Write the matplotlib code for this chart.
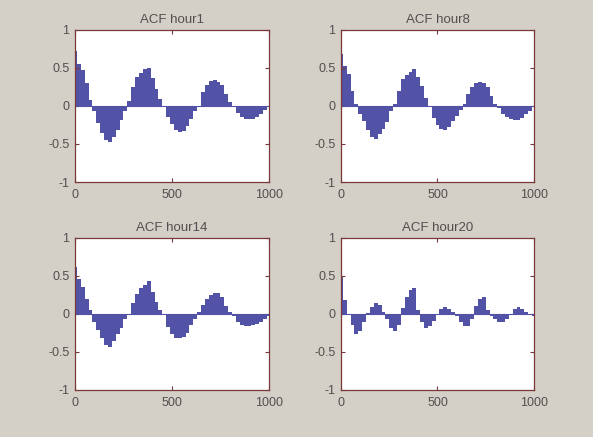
import numpy as np
import matplotlib
matplotlib.use("Agg")
import matplotlib.pyplot as plt

plt.rcParams['font.family'] = ['Liberation Sans', 'DejaVu Sans']

lags = np.arange(0, 1001, 20)

acf_hour1 = [0.72, 0.55, 0.47, 0.30, 0.08, -0.06, -0.22, -0.36, -0.45, -0.47,
             -0.41, -0.32, -0.19, -0.06, 0.07, 0.25, 0.38, 0.44, 0.48, 0.50,
             0.37, 0.22, 0.09, -0.02, -0.14, -0.24, -0.31, -0.34, -0.33, -0.26,
             -0.17, -0.07, -0.01, 0.18, 0.28, 0.33, 0.34, 0.32, 0.27, 0.16,
             0.05, -0.02, -0.09, -0.15, -0.17, -0.17, -0.17, -0.14, -0.10, -0.05,
             -0.01]
acf_hour8 = [0.68, 0.52, 0.42, 0.20, 0.02, -0.10, -0.20, -0.31, -0.41, -0.44,
             -0.37, -0.30, -0.21, -0.07, 0.02, 0.20, 0.35, 0.41, 0.45, 0.48,
             0.38, 0.26, 0.10, 0.00, -0.16, -0.25, -0.30, -0.31, -0.28, -0.20,
             -0.13, -0.05, 0.03, 0.16, 0.25, 0.30, 0.31, 0.30, 0.25, 0.13,
             0.03, -0.03, -0.10, -0.14, -0.17, -0.18, -0.18, -0.16, -0.11, -0.06,
             -0.02]
acf_hour14 = [0.62, 0.46, 0.36, 0.20, 0.05, -0.10, -0.21, -0.32, -0.41, -0.43,
              -0.35, -0.27, -0.18, -0.07, 0.00, 0.15, 0.26, 0.34, 0.38, 0.43,
              0.29, 0.16, 0.05, -0.02, -0.17, -0.26, -0.31, -0.32, -0.30, -0.25,
              -0.15, -0.06, 0.02, 0.12, 0.20, 0.25, 0.28, 0.27, 0.22, 0.10,
              0.03, -0.03, -0.10, -0.14, -0.16, -0.16, -0.15, -0.13, -0.10, -0.06,
              -0.03]
acf_hour20 = [0.48, 0.18, 0.00, -0.15, -0.27, -0.23, -0.11, 0.01, 0.09, 0.15,
              0.12, 0.02, -0.06, -0.18, -0.23, -0.14, 0.08, 0.22, 0.31, 0.34,
              0.05, -0.10, -0.19, -0.16, -0.09, -0.01, 0.06, 0.09, 0.07, 0.02,
              -0.03, -0.10, -0.16, -0.16, -0.06, 0.10, 0.20, 0.22, 0.05, -0.03,
              -0.07, -0.11, -0.11, -0.06, 0.00, 0.06, 0.09, 0.06, 0.02, -0.02,
              -0.03]

titles = ["ACF hour1", "ACF hour8", "ACF hour14", "ACF hour20"]
series = [acf_hour1, acf_hour8, acf_hour14, acf_hour20]

bg = '#d4d0c8'
frame = '#7a3838'
bar_col = '#5252a6'
txt = '#505050'

fig = plt.figure(figsize=(5.93, 4.37), dpi=100, facecolor=bg)

# axes boxes in figure fractions (left, bottom, width, height)
boxes = [(0.1265, 0.5835, 0.327, 0.348),
         (0.575, 0.5835, 0.3255, 0.348),
         (0.1265, 0.1076, 0.327, 0.348),
         (0.575, 0.1076, 0.3255, 0.348)]

for box, title, vals in zip(boxes, titles, series):
    ax = fig.add_axes(box)
    ax.set_facecolor('white')
    ax.bar(lags, vals, width=20, color=bar_col, linewidth=0)
    ax.axhline(0, color=bar_col, lw=0.8)
    ax.set_xlim(0, 1000)
    ax.set_ylim(-1, 1)
    ax.set_xticks([0, 500, 1000])
    ax.set_yticks([-1, -0.5, 0, 0.5, 1])
    ax.set_yticklabels(['-1', '-0.5', '0', '0.5', '1'])
    ax.tick_params(direction='in', length=3, width=0.8, color=frame,
                   labelcolor=txt, labelsize=9, top=True, right=True, pad=4)
    ax.tick_params(axis='x', pad=5)
    for sp in ax.spines.values():
        sp.set_color(frame)
        sp.set_linewidth(0.9)
    ax.set_title(title, fontsize=9.5, color=txt, pad=5)

fig.savefig("out.png", dpi=100, facecolor=bg)
